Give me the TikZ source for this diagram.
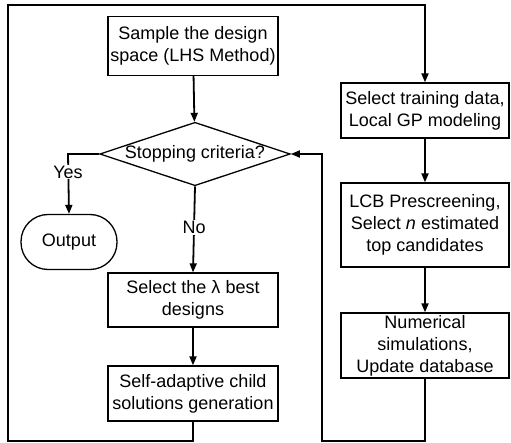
\documentclass[tikz,border=0pt]{standalone}
\usepackage{fontspec}
\setmainfont{Liberation Sans}
\usetikzlibrary{shapes.geometric,arrows.meta}
\tikzset{
  procbox/.style={draw, line width=1.3pt, align=center, inner sep=0pt,
    font=\fontsize{18}{22}\selectfont},
  decision/.style={draw, line width=1.3pt, shape=diamond, aspect=3, inner sep=0pt,
    font=\fontsize{18}{22}\selectfont},
  terminal/.style={draw, line width=1.3pt, rounded corners=27pt, inner sep=0pt,
    font=\fontsize{18}{22}\selectfont},
  flow/.style={line width=1.8pt, -{Triangle[length=9pt,width=7pt]}},
  edgelabel/.style={fill=white, inner sep=1pt, font=\fontsize{18}{22}\selectfont}
}
\begin{document}
\begin{tikzpicture}[x=1pt,y=-1pt]
			%%%%% FRAME %%%%%
			\useasboundingbox (0,0) rectangle (511,443);
			
			%%%%% LEFT COLUMN %%%%%
			\node[procbox, minimum width=170, minimum height=59] (sample) at (193,46) {Sample the design\\space (LHS Method)};
			\node[decision, minimum width=190, minimum height=63] (stop) at (195,154) {Stopping criteria?};
			\node[terminal, minimum width=96, minimum height=55] (output) at (69,242) {Output};
			\node[procbox, minimum width=170, minimum height=54] (best) at (193,300) {Select the λ best\\designs};
			\node[procbox, minimum width=170, minimum height=55] (child) at (193,393.5) {Self-adaptive child\\solutions generation};
			
			%%%%% RIGHT COLUMN %%%%%
			\node[procbox, minimum width=168, minimum height=55] (train) at (425,110.5) {Select training data,\\Local GP modeling};
			\node[procbox, minimum width=168, minimum height=84] (lcb) at (425,225) {LCB Prescreening,\\Select \textit{n} estimated\\top candidates};
			\node[procbox, minimum width=168, minimum height=65] (numsim) at (425,345.5) {Numerical\\simulations,\\Update database};
			
			%%%%% LOOP CORNERS %%%%%
			\coordinate (yesturn) at (68,154);
			\coordinate (loopbl) at (8,441);
			\coordinate (looptl) at (8,5);
			\coordinate (returnbl) at (322,441);
			
			%%%%% CONNECTORS %%%%%
			\draw[flow] (sample) -- (stop);
			\draw[flow] (stop.west) -- (yesturn) -- (output.north);
			\node[edgelabel] at (68,172) {Yes};
			\draw[flow] (stop.south) -- (best.north) node[edgelabel, pos=0.48] {No};
			\draw[flow] (best) -- (child);
			\draw[flow] (child.south) |- (loopbl) -- (looptl) -| (train.north);
			\draw[flow] (train) -- (lcb);
			\draw[flow] (lcb) -- (numsim);
			\draw[flow] (numsim.south) |- (returnbl) |- (stop.east);
			
			%%%%% END %%%%%
\end{tikzpicture}
\end{document}
